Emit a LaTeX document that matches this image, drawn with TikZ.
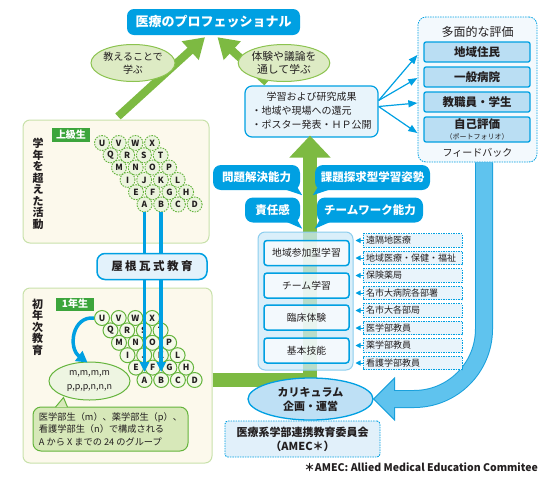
\documentclass[tikz,border=0pt]{standalone}
\usepackage{fontspec}
\setmainfont{Noto Sans CJK JP}
\usepackage{xcolor}
\usepackage{tikz}
\usetikzlibrary{shapes.geometric, arrows.meta, calc, positioning}

\definecolor{inkgray}{RGB}{35,31,32}
\definecolor{medcyan}{RGB}{0,160,226}
\definecolor{greenarrow}{RGB}{125,186,66}
\definecolor{ellgreen}{RGB}{140,195,80}
\definecolor{ellfill}{RGB}{221,235,196}
\definecolor{cream}{RGB}{252,249,236}
\definecolor{creamedge}{RGB}{200,225,170}
\definecolor{labelgreen}{RGB}{60,165,60}
\definecolor{circgreen}{RGB}{100,180,60}
\definecolor{upfill}{RGB}{236,244,222}
\definecolor{lowfill}{RGB}{244,249,233}
\definecolor{mmfill}{RGB}{238,245,226}
\definecolor{grpfill}{RGB}{215,232,185}
\definecolor{resfill}{RGB}{232,244,251}
\definecolor{evalbg}{RGB}{243,249,253}
\definecolor{evalfill}{RGB}{186,222,243}
\definecolor{yanefill}{RGB}{227,242,251}
\definecolor{contfill}{RGB}{205,233,248}
\definecolor{contedge}{RGB}{140,205,238}
\definecolor{sidefill}{RGB}{233,244,251}
\definecolor{curfill}{RGB}{190,224,245}
\definecolor{amecfill}{RGB}{225,240,250}
\definecolor{fbfill}{RGB}{95,195,238}
\definecolor{fbedge}{RGB}{25,160,220}

\newcommand{\setfs}[2]{\fontsize{#1}{#2}\selectfont}

\begin{document}
\begin{tikzpicture}[x=1pt, y=-1pt, text=inkgray]
\useasboundingbox (0,0) rectangle (560,480);

\begin{scope}[every node/.style={draw=creamedge, fill=cream, line width=1, rounded corners=7, inner sep=0}]
    \node[minimum width=186, minimum height=123] (upper) at (116,181.5) {};
    \node[minimum width=189, minimum height=175] (lower) at (117.5,375.5) {};
\end{scope}

\node[fill=medcyan, text=white, rounded corners=7, minimum width=173, minimum height=26, font=\setfs{13}{15}\bfseries] (pro) at (213.5,22) {医療のプロフェッショナル};

\node[draw=medcyan, fill=resfill, line width=1.2, rounded corners=7, minimum width=133, minimum height=51, inner sep=0, font=\setfs{10}{14}] (res) at (311.5,111.5)
    {\begin{tabular}{@{}l@{}}\multicolumn{1}{@{}c@{}}{学習および研究成果}\\・地域や現場への還元\\・ポスター発表・ＨＰ公開\end{tabular}};

\node[draw=medcyan, dash pattern=on 1.5pt off 1pt, fill=evalbg, line width=0.8, rounded corners=8, minimum width=119, minimum height=145] (eval) at (477.5,89.5) {};
\node[font=\setfs{12}{14}] (evtitle) at (477.5,31.5) {多面的な評価};
\begin{scope}[every node/.style={draw=medcyan, fill=evalfill, line width=1.3, rounded corners=2, minimum width=106, minimum height=20, inner sep=0, align=center, font=\setfs{11.5}{12}\bfseries}]
    \node (e1) at (477,52) {地域住民};
    \node (e2) at (477,77) {一般病院};
    \node (e3) at (477,102) {教職員・学生};
    \node[minimum height=25] (e4) at (477,129.5) {自己評価\\[-1pt]{\setfs{7}{7}\mdseries （ポートフォリオ）}};
\end{scope}
\node[font=\setfs{10}{12}] (fb) at (477.5,153) {フィードバック};

\begin{scope}[medcyan, line width=1.2, -{Triangle[width=7pt,length=9pt]}]
    \draw ($(res.east)+(0,-11)$) -- ($(e1.west)+(-6,3)$);
    \draw ($(res.east)+(0,-11)$) -- ($(e2.west)+(-6,1)$);
    \draw ($(res.east)+(0,-5)$) -- ($(e3.west)+(-6,1)$);
    \draw ($(res.east)+(0,-5)$) -- ($(e4.west)+(-6,3.5)$);
\end{scope}

\begin{scope}[greenarrow, line width=8, -{Triangle[width=24pt,length=20pt]}]
    \draw ($(upper.north)+(2,-3)$) -- ($(pro.south)+(-8.5,2)$);
    \draw ($(res.north)+(-44.5,-3)$) -- ($(pro.south)+(4,2)$);
\end{scope}

\begin{scope}[every node/.style={ellipse, draw=ellgreen, fill=ellfill, line width=1, inner sep=0, align=center}]
    \node[minimum width=71, minimum height=37, font=\setfs{10}{12.5}] (teach) at (133,63) {教えることで\\学ぶ};
    \node[minimum width=82, minimum height=37, font=\setfs{10.8}{13}] (debate) at (284,63) {体験や議論を\\通して学ぶ};
\end{scope}

\coordinate (bend) at (310,380);
\draw[greenarrow, line width=14, -{Triangle[width=40pt,length=22pt]}] (lower.east |- bend) -- (bend) -- ($(bend |- res.south)+(0,-2)$);

\node[ellipse, draw=medcyan, fill=curfill, line width=1.3, minimum width=125, minimum height=42, inner sep=0, align=center, font=\setfs{11}{14}\bfseries] (cur) at (310.5,399) {カリキュラム\\企画・運営};

\coordinate (fbtop) at ($(eval.south)+(6.5,0)$);
\draw[fbedge, line width=18, rounded corners=70] (fbtop) -- (fbtop |- cur.east) -- ($(cur.east)+(20,0)$);
\filldraw[fill=fbfill, draw=fbedge, line width=1] (cur.east) -- ($(cur.east)+(21,-21)$) -- ($(cur.east)+(21,21)$) -- cycle;
\draw[fbfill, line width=16, rounded corners=70] (fbtop) -- (fbtop |- cur.east) -- ($(cur.east)+(17,0)$);

\node[draw=contedge, fill=contfill, fill opacity=0.75, line width=1, rounded corners=7, minimum width=95, minimum height=138] (cont) at (305.5,301) {};
\begin{scope}[every node/.style={draw=medcyan, fill=white, fill opacity=0.7, text opacity=1, line width=1.5, rounded corners=3, minimum width=85, minimum height=25, inner sep=0, font=\setfs{9.8}{11}}]
    \node (area) at (306.5,253) {地域参加型学習};
    \node (team) at (306.5,285.5) {チーム学習};
    \node (clinic) at (306.5,317.5) {臨床体験};
    \node (basic) at (306.5,350.5) {基本技能};
\end{scope}

\begin{scope}[every node/.style={draw=medcyan, dash pattern=on 1.5pt off 1pt, fill=sidefill, line width=0.8, text width=93, inner xsep=3, inner ysep=0, minimum height=13.5, align=left, font=\setfs{9}{10}}]
    \foreach \t [count=\i] in {遠隔地医療, 地域医療・保健・福祉, 保険薬局, 名市大病院各部署, 名市大各部局, 医学部教員, 薬学部教員, 看護学部教員}
        \node (s\i) at (412.5,{240.5+17.5*(\i-1)}) {\t};
\end{scope}
\foreach \i in {1,...,8}
    \draw[medcyan, line width=1, -{Triangle[width=5pt,length=5pt]}] (s\i.west) -- ($(cont.east |- s\i.west)+(2,0)$);

\begin{scope}[every node/.style={fill=medcyan, text=white, rounded corners=8, minimum height=25, inner sep=0, font=\setfs{11.5}{13}\bfseries}]
    \node[minimum width=87] (solve) at (256.5,177.5) {問題解決能力};
    \node[minimum width=115] (quest) at (372.5,177.5) {課題探求型学習姿勢};
    \node[minimum width=55] (resp) at (272.5,210) {責任感};
    \node[minimum width=106] (teamw) at (370,210) {チームワーク能力};
\end{scope}
\begin{scope}[medcyan]
    \fill ($(solve.south east)+(-16,-1)$) -- ($(solve.south east)+(2,5)$) -- ($(solve.south east)+(-3,-3)$) -- cycle;
    \fill ($(quest.south west)+(16,-1)$) -- ($(quest.south west)+(-2,5)$) -- ($(quest.south west)+(3,-3)$) -- cycle;
    \fill ($(resp.south east)+(-14,-1)$) -- ($(resp.south east)+(2,6)$) -- ($(resp.south east)+(-3,-3)$) -- cycle;
    \fill ($(teamw.south west)+(14,-1)$) -- ($(teamw.south west)+(-2,6)$) -- ($(teamw.south west)+(3,-3)$) -- cycle;
\end{scope}

\node[draw=medcyan, dash pattern=on 1.5pt off 1pt, fill=amecfill, line width=0.9, rounded corners=3, minimum width=155, minimum height=36, inner sep=0, align=center, font=\setfs{11}{14}\bfseries] (amec) at (302.5,439) {医療系学部連携教育委員会\\（AMEC＊）};
\node[anchor=east, inner sep=0, font=\setfs{10.5}{12}\bfseries] (note) at (538,467) {＊AMEC: Allied Medical Education Commitee};

\begin{scope}[every node/.style={fill=labelgreen, text=white, minimum width=38, inner sep=0, font=\setfs{10}{11}\bfseries}]
    \node[minimum height=14] (senior) at (71,135) {上級生};
    \node[minimum height=13] (freshman) at (75,304) {1年生};
\end{scope}
\begin{scope}[every node/.style={align=center, inner sep=0, font=\setfs{11}{11.5}\bfseries}]
    \node (acrossgrade) at (38,184) {学\\年\\を\\超\\え\\た\\活\\動};
    \node (firstyear) at (37.5,327) {初\\年\\次\\教\\育};
\end{scope}

\begin{scope}[every node/.style={circle, draw=circgreen, dash pattern=on 1.6pt off 1.1pt, fill=upfill, line width=0.9, minimum size=15, inner sep=0, font=\setfs{8.5}{9}\bfseries}]
    \foreach \rw/\chs in {0/{U,V,W,X},1/{Q,R,S,T},2/{M,N,O,P},3/{I,J,K,L},4/{E,F,G,H},5/{A,B,C,D}}
        \foreach \ch [count=\cn from 0] in \chs
            \node (u\ch) at ({102+8.5*\rw+16.7*\cn},{143+12.3*\rw}) {\ch};
\end{scope}
\begin{scope}[every node/.style={circle, draw=circgreen, fill=lowfill, line width=1, minimum size=15, inner sep=0, font=\setfs{8.5}{9}\bfseries}]
    \foreach \rw/\chs in {0/{U,V,W,X},1/{Q,R,S,T},2/{M,N,O,P},3/{I,J,K,L},4/{E,F,G,H},5/{A,B,C,D}}
        \foreach \ch [count=\cn from 0] in \chs
            \node (l\ch) at ({102+8.5*\rw+16.7*\cn},{318+12.4*\rw}) {\ch};
\end{scope}

\begin{scope}[medcyan, line width=3.5, -{Triangle[width=9pt,length=10pt]}]
    \draw (uA.south) -- (lA.north);
    \draw (uB.south) -- (lB.north);
\end{scope}
\node[draw=medcyan, fill=yanefill, line width=1.5, rounded corners=8, minimum width=110, minimum height=26, inner sep=0, font=\setfs{11.5}{13}\bfseries] (yane) at (152,266.5) {屋\hspace{2.5pt}根\hspace{2.5pt}瓦\hspace{2.5pt}式\hspace{2.5pt}教\hspace{2.5pt}育};

\node[ellipse, draw=circgreen, fill=mmfill, line width=1, minimum width=81, minimum height=38, inner sep=0, align=center, font=\setfs{9}{14}] (mm) at (89.5,381) {m,m,m,m\\p,p,p,n,n,n};
\draw[medcyan, line width=3.5, -{Triangle[width=12pt,length=11pt]}] (lU.west) .. controls (72,316) and (68,348) .. ($(mm.north)+(-2,1)$);

\node[draw=circgreen, fill=grpfill, line width=1, rounded corners=8, minimum width=155, minimum height=44, inner sep=0, align=left, font=\setfs{9.2}{12.5}] (grp) at (110.5,429) {医学部生（m）、薬学部生（p）、\\看護学部生（n）で構成される\\A から X までの 24 のグループ};
\filldraw[draw=circgreen, fill=grpfill, line width=1] ($(grp.north west)+(23,0.6)$) -- ($(mm.south)+(-26,-3)$) -- ($(grp.north west)+(35,0.6)$);
\end{tikzpicture}
\end{document}
